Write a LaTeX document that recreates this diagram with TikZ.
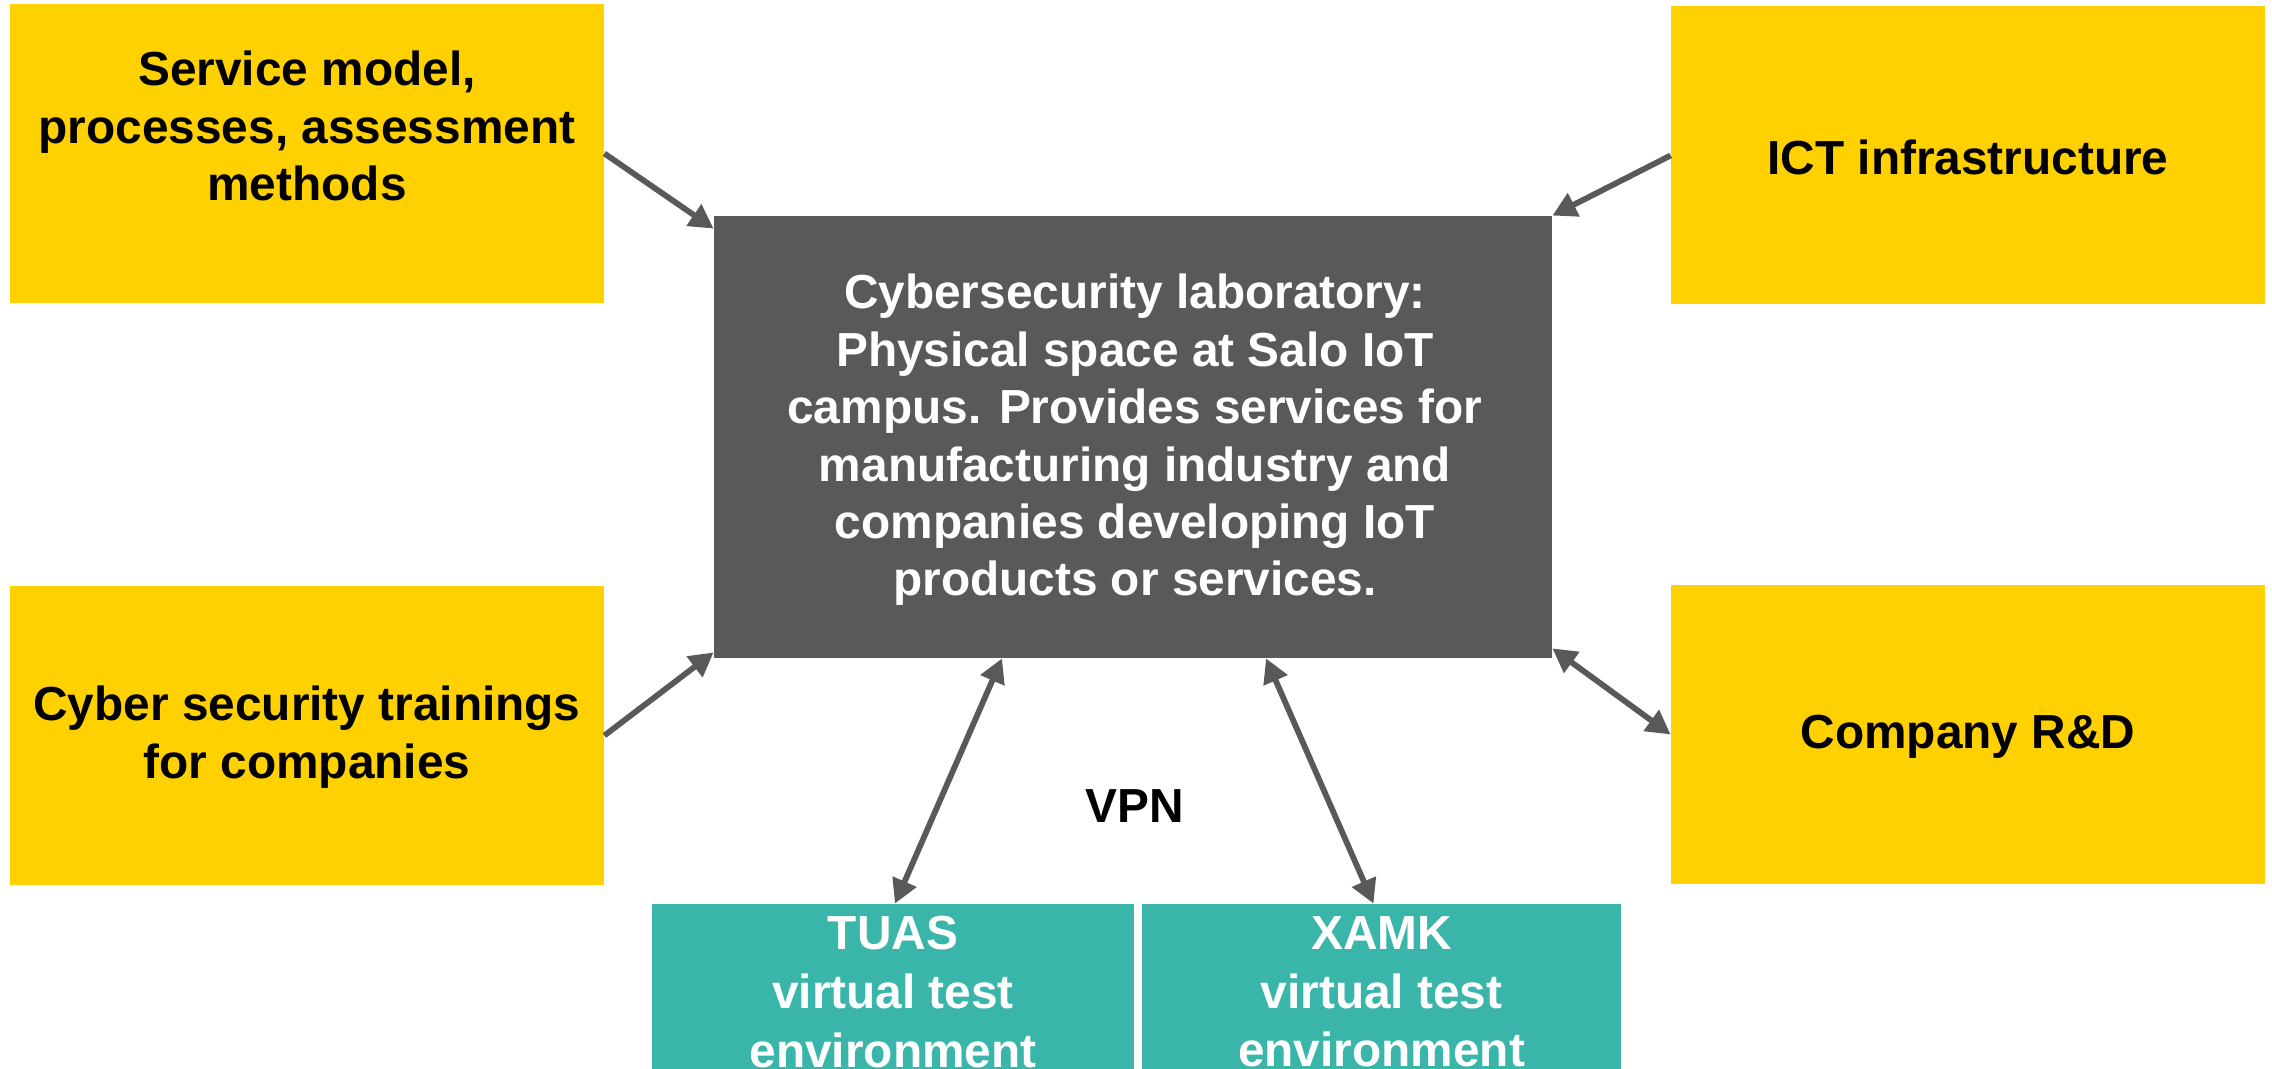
\documentclass[tikz,border=0pt]{standalone}
\usepackage{fontspec}
\setmainfont{Liberation Sans}
\usetikzlibrary{arrows.meta,calc}
\definecolor{ybox}{RGB}{255,209,0}
\definecolor{dbox}{RGB}{89,89,89}
\definecolor{tbox}{RGB}{58,181,170}
\definecolor{arr}{RGB}{89,89,89}
\begin{document}
\begin{tikzpicture}[x=0.5pt,y=-0.5pt,
  yellowbox/.style={fill=ybox,draw=none,rectangle,inner sep=0pt},
  darkbox/.style={fill=dbox,draw=none,rectangle,inner sep=0pt},
  tealbox/.style={fill=tbox,draw=none,rectangle,inner sep=0pt},
  btext/.style={font=\fontsize{23.9}{28.7}\selectfont\bfseries,align=center,text=black,inner sep=0pt},
  wtext/.style={font=\fontsize{23.9}{28.7}\selectfont\bfseries,align=center,text=white,inner sep=0pt},
  ttext/.style={font=\fontsize{23.9}{29.3}\selectfont\bfseries,align=center,text=white,inner sep=0pt},
  tip/.style={},
  conn/.style={draw=arr,line width=2.9pt,-{Triangle[length=12pt,width=12.5pt]}},
  dconn/.style={draw=arr,line width=2.9pt,{Triangle[length=12pt,width=12.5pt]}-{Triangle[length=12pt,width=12.5pt]}}]
\useasboundingbox (0,0) rectangle (2272,1069);
\clip (0,0) rectangle (2272,1069);
% boxes
\node[yellowbox,minimum width=297pt,minimum height=149.5pt] (sm) at (307,153.5) {};
\node[btext] (smt) at (307,126) {Service model,\\processes, assessment\\methods};
\node[yellowbox,minimum width=297pt,minimum height=149pt] (ict) at (1968,155.5) {};
\node[btext] (ictt) at (1968,157) {ICT infrastructure};
\node[yellowbox,minimum width=297pt,minimum height=149pt] (cyb) at (307,735.5) {};
\node[btext] (cybt) at (307,737) {Cyber security trainings\\for companies};
\node[yellowbox,minimum width=297pt,minimum height=149pt] (rd) at (1968,734.5) {};
\node[btext] (rdt) at (1968,737) {Company R\&D};
\node[darkbox,minimum width=419pt,minimum height=221pt] (lab) at (1133,437) {};
\node[wtext] (labt) at (1135,440) {Cybersecurity laboratory:\\Physical space at Salo IoT\\campus. Provides services for\\manufacturing industry and\\companies developing IoT\\products or services.};
\node[tealbox,minimum width=241pt,minimum height=88pt] (tuas) at (893,992) {};
\node[ttext] (tuast) at (893,992) {TUAS\\virtual test\\environment};
\node[tealbox,minimum width=239.5pt,minimum height=88pt] (xamk) at (1381.5,992) {};
\node[ttext] (xamkt) at (1381.5,992) {XAMK\\virtual test\\environment};
\node[btext] (vpn) at (1135,806) {VPN};
% connectors
\draw[conn] (sm.east) -- ($(lab.north west)+(0,13)$);
\draw[conn] (ict.west) -- (lab.north east);
\draw[conn] (cyb.east) -- ($(lab.south west)+(0,-6)$);
\draw[dconn] ($(lab.south east)+(0,-10)$) -- (rd.west);
\draw[dconn] ($(lab.south)+(-131,0)$) -- ($(tuas.north)+(2,0)$);
\draw[dconn] ($(lab.south)+(133,0)$) -- ($(xamk.north)+(-8,0)$);
\end{tikzpicture}
\end{document}
